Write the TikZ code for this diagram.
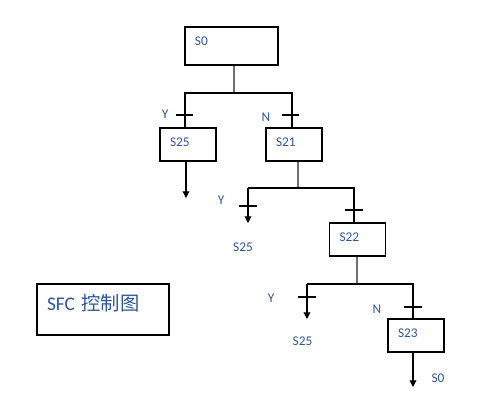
\documentclass[tikz,border=0pt]{standalone}
\usepackage{fontspec}
\setmainfont{Carlito}
\newfontfamily\cjk{Noto Sans CJK SC}
\usepackage{tikz}
\usetikzlibrary{arrows.meta,positioning}
\definecolor{Ink}{HTML}{2F5597}
\definecolor{Stem}{HTML}{707070}
\tikzset{
  stepbox/.style={draw=black,line width=0.9pt,minimum height=24.75pt,text width=27pt,
    inner xsep=7.5pt,align=left,text=Ink,font=\fontsize{10}{12}\selectfont,
    text height=7pt,text depth=4.4pt},
  wire/.style={line width=0.9pt,color=black},
  stem/.style={wire,color=Stem},
  arrow/.style={wire,-{Triangle[length=5pt,width=5pt]}},
  tag/.style={text=Ink,font=\fontsize{10}{12}\selectfont,inner sep=0pt}
}
\begin{document}
\begin{tikzpicture}[x=0.75pt,y=-0.75pt]
  \useasboundingbox (0,0) rectangle (501,401);
  \node[stepbox,text width=54.75pt,minimum height=28.5pt,text depth=8.1pt] (s0) at (231.5,46) {S0};
  \node[stepbox] (s25) at (188,144.5) {S25};
  \node[stepbox] (s21) at (294,144.5) {S21};
  \node[stepbox] (s22) at (357.5,239.5) {S22};
  \node[stepbox] (s23) at (416,335.5) {S23};
  \node[stepbox,text width=84pt,minimum height=38.25pt,font=\fontsize{14.5}{17}\selectfont,
    text height=10pt,text depth=8.8pt] (sfc) at (103,309.5) {SFC {\cjk 控制图}};

  \coordinate (b1) at (234,93);
  \coordinate (b1l) at (185,93);
  \coordinate (b1r) at (292,93);
  \draw[stem] (s0.south -| b1) -- (b1);
  \draw[wire] (b1l |- s25.north) -- (b1l) -- (b1r) -- (b1r |- s21.north);
  \coordinate (t1l) at (184.5,115);
  \coordinate (t1r) at (290.5,115);
  \draw[wire] ([xshift=-6.4pt]t1l) -- ([xshift=6.4pt]t1l);
  \draw[wire] ([xshift=-6.4pt]t1r) -- ([xshift=6.4pt]t1r);
  \node[tag] (y1) at (165,114) {Y};
  \node[tag] (n1) at (266,117) {N};
  \coordinate (e1) at (186,198);
  \draw[arrow] (e1 |- s25.south) -- (e1);

  \coordinate (b2) at (298,188);
  \coordinate (b2l) at (248,188);
  \coordinate (b2r) at (354,188);
  \coordinate (e2) at (248,223);
  \draw[stem] (s21.south -| b2) -- (b2);
  \draw[wire] (b2l) -- (b2r) -- (b2r |- s22.north);
  \draw[arrow] (b2l) -- (e2);
  \coordinate (t2l) at (248,206);
  \coordinate (t2r) at (354,210);
  \draw[wire] ([xshift=-6.6pt]t2l) -- ([xshift=6.6pt]t2l);
  \draw[wire] ([xshift=-6.6pt]t2r) -- ([xshift=6.6pt]t2r);
  \node[tag] (y2) at (221,200) {Y};
  \node[tag] (g2) at (243,247) {S25};

  \coordinate (b3) at (357,284);
  \coordinate (b3l) at (307,284);
  \coordinate (b3r) at (413,284);
  \coordinate (e3) at (307,319);
  \draw[stem] (s22.south -| b3) -- (b3);
  \draw[wire] (b3l) -- (b3r) -- (b3r |- s23.north);
  \draw[arrow] (b3l) -- (e3);
  \coordinate (t3l) at (307,297);
  \coordinate (t3r) at (413,307);
  \draw[wire] ([xshift=-6.6pt]t3l) -- ([xshift=6.6pt]t3l);
  \draw[wire] ([xshift=-6.6pt]t3r) -- ([xshift=6.6pt]t3r);
  \node[tag] (y3) at (271,298) {Y};
  \node[tag] (n3) at (377,309) {N};
  \node[tag] (g3) at (302.5,341) {S25};

  \coordinate (e4) at (413,387);
  \draw[arrow] (e4 |- s23.south) -- (e4);
  \node[tag] (g4) at (438,378) {S0};
\end{tikzpicture}
\end{document}
